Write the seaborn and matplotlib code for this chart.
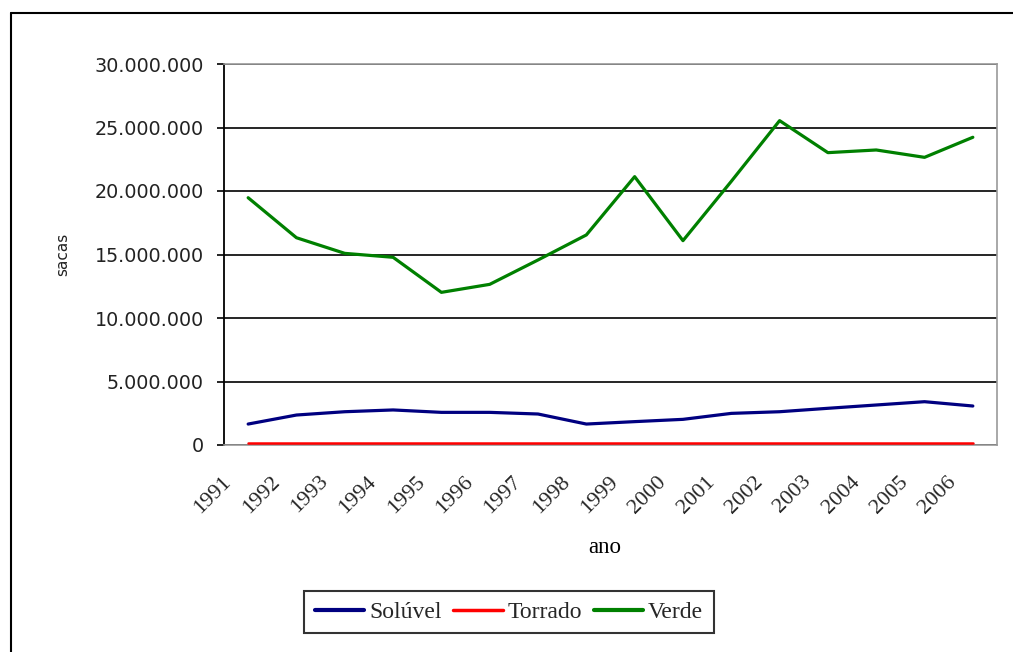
import numpy as np
import pandas as pd
import matplotlib
matplotlib.use("Agg")
import matplotlib.pyplot as plt
from matplotlib.lines import Line2D
from matplotlib.transforms import ScaledTranslation
from matplotlib.ticker import FuncFormatter, MultipleLocator
import seaborn as sns

years = ["1991", "1992", "1993", "1994", "1995", "1996", "1997", "1998",
         "1999", "2000", "2001", "2002", "2003", "2004", "2005", "2006"]
soluvel = [1650000, 2360000, 2620000, 2760000, 2570000, 2570000, 2440000, 1650000,
           1840000, 2020000, 2490000, 2620000, 2890000, 3150000, 3410000, 3070000]
torrado = [120000, 120000, 120000, 120000, 120000, 120000, 120000, 120000,
           120000, 120000, 120000, 120000, 120000, 120000, 120000, 120000]
verde = [19470000, 16320000, 15090000, 14780000, 12020000, 12650000, 14570000, 16540000,
         21130000, 16090000, 20760000, 25540000, 23020000, 23230000, 22650000, 24230000]
series_names = ["Solúvel", "Torrado", "Verde"]
colors = {"Solúvel": "#000080", "Torrado": "#FF0000", "Verde": "#008000"}

rows = []
for name, vals in zip(series_names, [soluvel, torrado, verde]):
    for i, v in enumerate(vals):
        rows.append({"idx": i, "ano": years[i], "valor": v, "serie": name})
df = pd.DataFrame(rows)

sns.set_theme(style="white")
plt.rcParams["font.family"] = ["DejaVu Sans"]

fig = plt.figure(figsize=(10.13, 6.52), dpi=100)
ax = fig.add_axes([224/1013, 1-445/652, 773/1013, 381/652])

sns.lineplot(data=df, x="idx", y="valor", hue="serie", hue_order=series_names,
             palette=colors, ax=ax, linewidth=2.3, legend=False, sort=False)
for ln in ax.get_lines():
    ln.set_zorder(4)
    if ln.get_color().lower() in ("#ff0000", "red"):
        ln.set_linewidth(1.8)

ax.set_xlim(-0.5, 15.5)
ax.set_ylim(0, 30000000)
ax.yaxis.set_major_locator(MultipleLocator(5000000))
ax.yaxis.set_major_formatter(FuncFormatter(lambda v, p: f"{int(v):,}".replace(",", ".")))
ax.grid(axis="y", color="black", linewidth=1.2)
ax.grid(axis="x", visible=False)
ax.set_axisbelow(True)

for side in ["top", "right", "bottom"]:
    ax.spines[side].set_color("#999999")
    ax.spines[side].set_linewidth(1.2)
ax.spines["left"].set_color("black")
ax.spines["left"].set_linewidth(1.3)

ax.tick_params(axis="y", left=True, length=5, width=1.2, color="black", pad=9.5,
               labelsize=13.8, labelcolor="#222222")
ax.tick_params(axis="x", bottom=False, labelsize=16)
ax.set_xticks(range(len(years)))
ax.set_xticklabels(years, family="Liberation Serif", rotation=45, ha="right", va="top",
                   rotation_mode="anchor")
off = ScaledTranslation(-26/100, -14/100, fig.dpi_scale_trans)
for lab in ax.get_xticklabels():
    lab.set_transform(lab.get_transform() + off)

ax.set_ylabel("sacas", fontsize=11, family="DejaVu Sans", color="#222222")
ax.yaxis.set_label_coords(-0.199, 0.5)
ax.set_xlabel("ano", fontsize=16.5, family="Liberation Serif", color="black")
ax.xaxis.label.set_va("center")
ax.xaxis.set_label_coords(0.493, -0.27)

handles = [Line2D([0], [0], color=colors[n], linewidth=3 if n != "Torrado" else 2.5)
           for n in series_names]
leg = fig.legend(handles, series_names, loc="center", bbox_to_anchor=(509/1013, 1-612/652),
                 ncol=3, frameon=True, fancybox=False, handlelength=2.1, handletextpad=0.2,
                 columnspacing=0.5, borderpad=0.45, borderaxespad=0,
                 prop={"family": "Liberation Serif", "size": 17})
leg.get_frame().set_edgecolor("black")
leg.get_frame().set_linewidth(1.5)

fig.add_artist(Line2D([11/1013, 11/1013], [0, 1-13/652], transform=fig.transFigure,
                      color="black", linewidth=1.5))
fig.add_artist(Line2D([11/1013, 1], [1-13/652, 1-13/652], transform=fig.transFigure,
                      color="black", linewidth=1.5))

fig.savefig("out.png", dpi=100)
